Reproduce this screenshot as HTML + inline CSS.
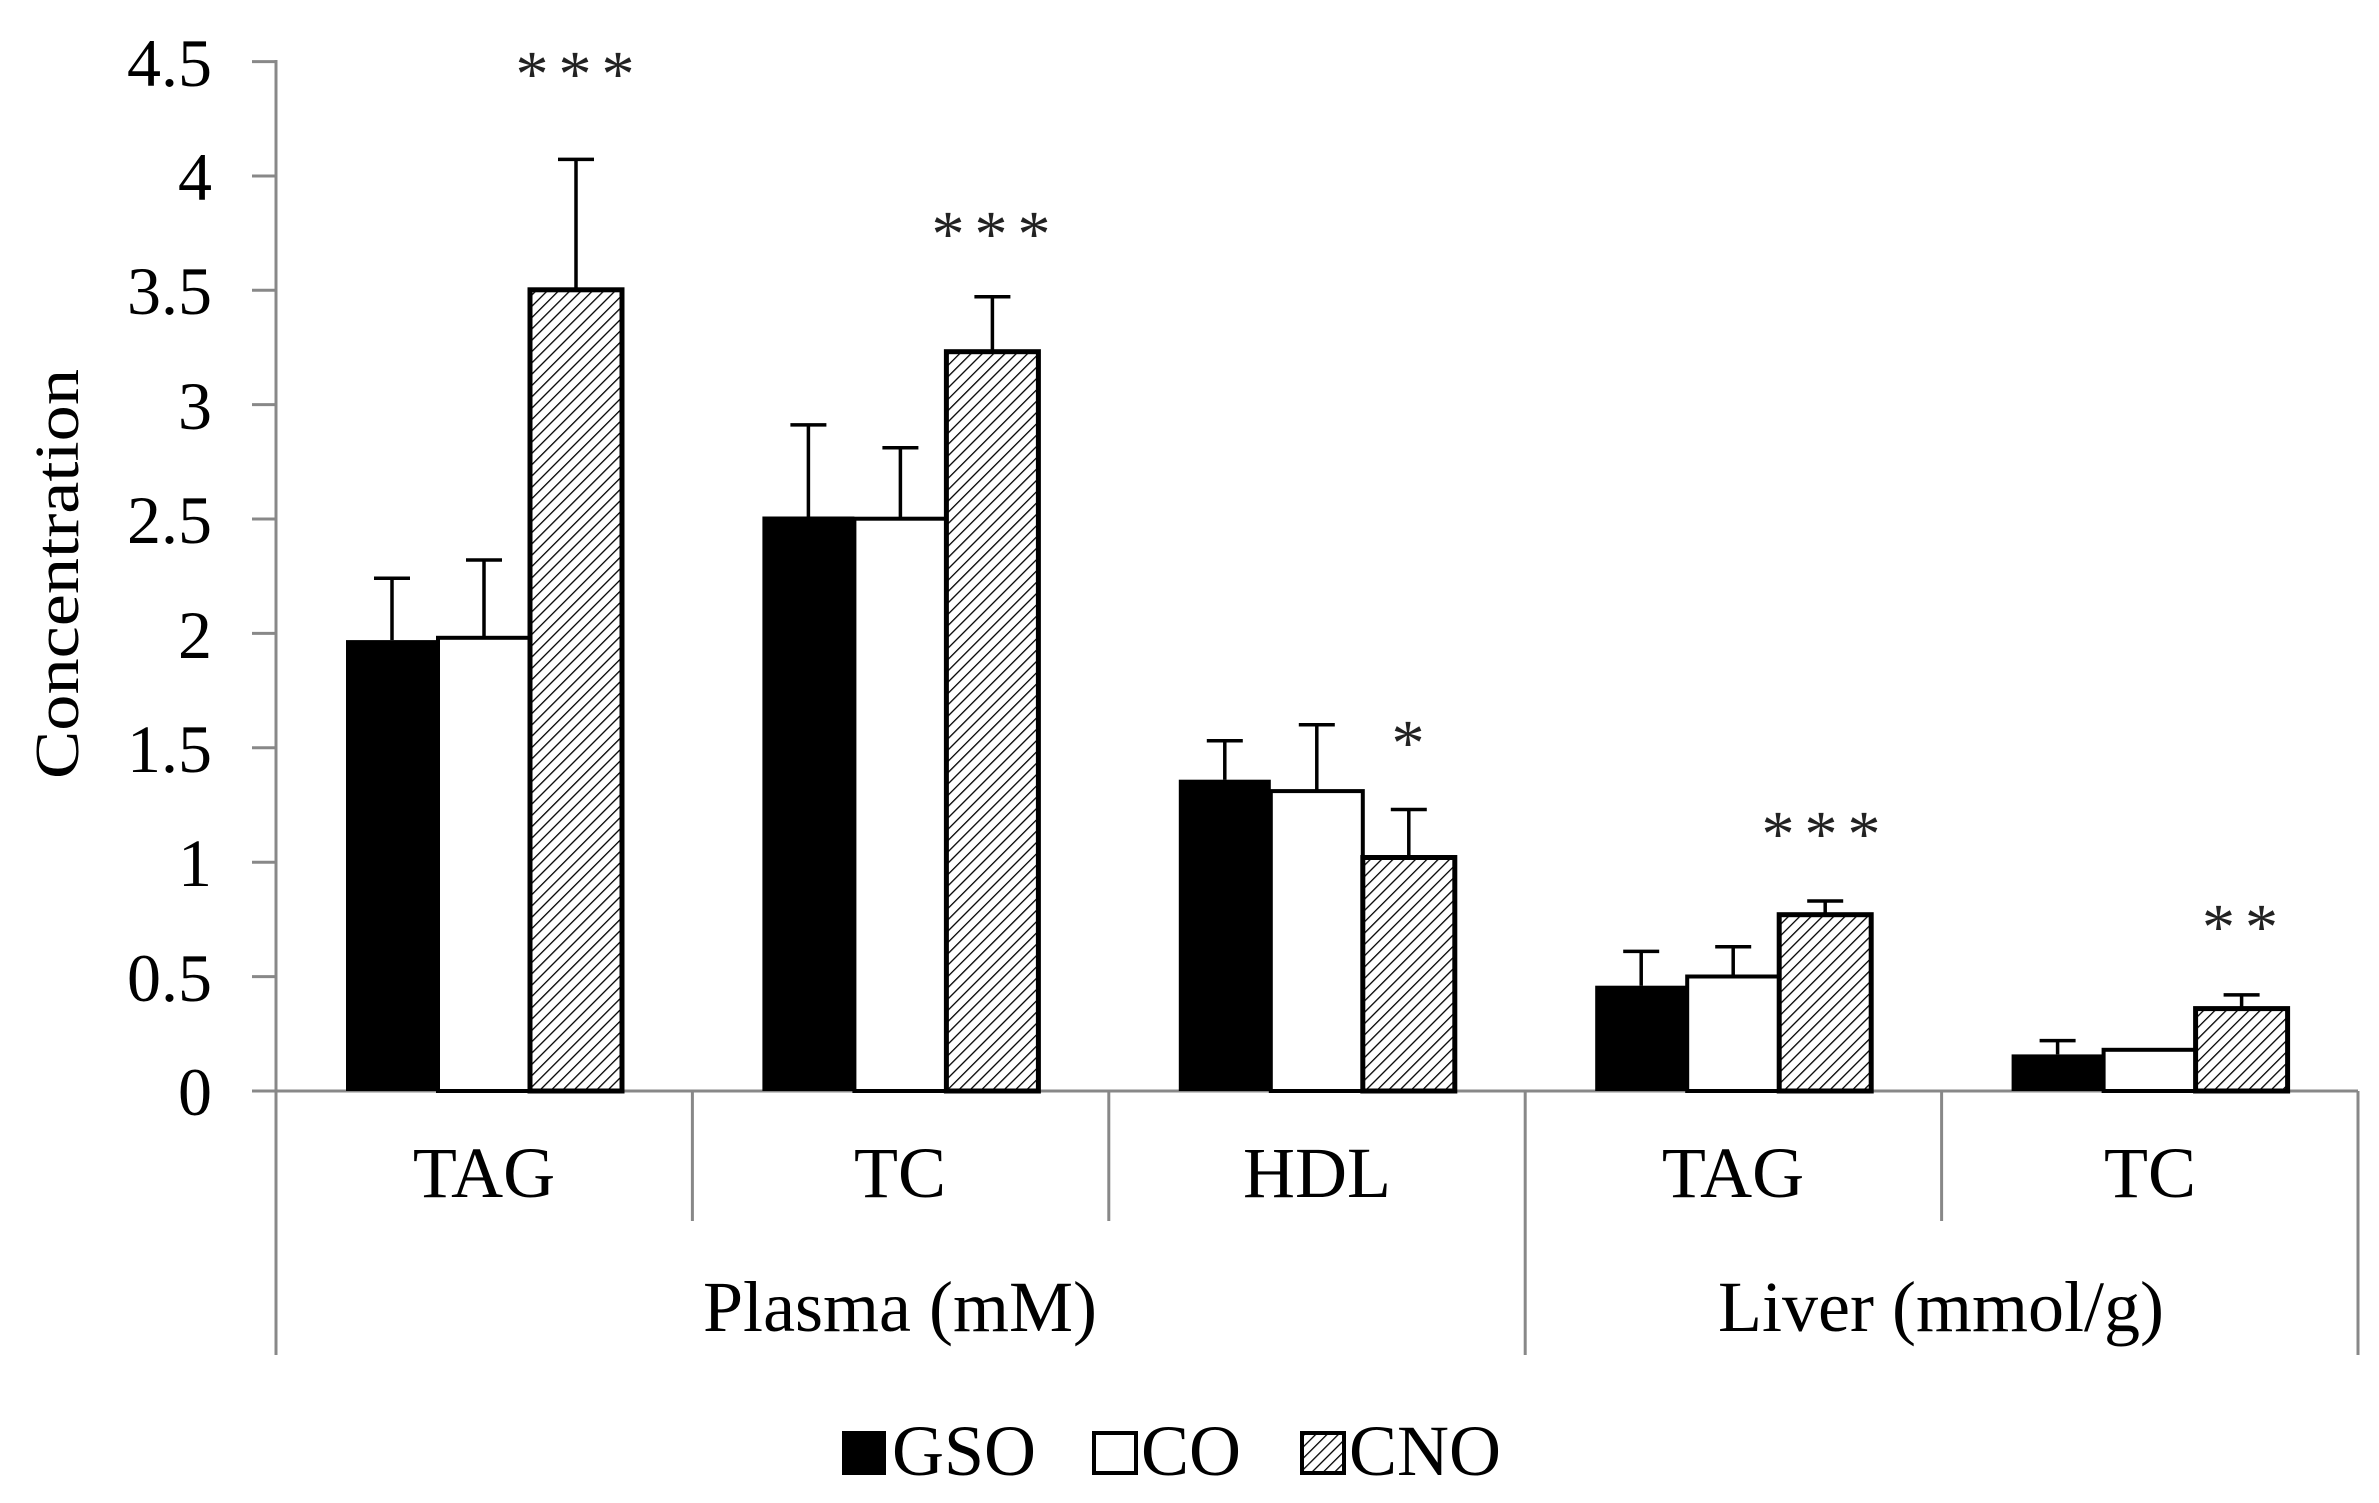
<!DOCTYPE html>
<html><head><meta charset="utf-8"><style>html,body{margin:0;padding:0;background:#fff}svg{display:block}</style></head>
<body>
<svg width="2379" height="1503" viewBox="0 0 2379 1503" xmlns="http://www.w3.org/2000/svg" font-family="'Liberation Serif', serif">
<defs>
<pattern id="h" patternUnits="userSpaceOnUse" width="8" height="8" patternTransform="rotate(45)">
<rect width="8" height="8" fill="#fff"/>
<line x1="0" y1="0" x2="0" y2="8" stroke="#000" stroke-width="2.6"/>
</pattern>
</defs>
<rect width="2379" height="1503" fill="#fff"/>
<g stroke="#888" stroke-width="3" fill="none">
<line x1="276" y1="60" x2="276" y2="1355"/>
<line x1="252" y1="1091" x2="2358" y2="1091"/>
<line x1="252" y1="61.6" x2="276" y2="61.6"/>
<line x1="252" y1="176" x2="276" y2="176"/>
<line x1="252" y1="290.2" x2="276" y2="290.2"/>
<line x1="252" y1="404.6" x2="276" y2="404.6"/>
<line x1="252" y1="519" x2="276" y2="519"/>
<line x1="252" y1="633.4" x2="276" y2="633.4"/>
<line x1="252" y1="747.8" x2="276" y2="747.8"/>
<line x1="252" y1="862.2" x2="276" y2="862.2"/>
<line x1="252" y1="976.6" x2="276" y2="976.6"/>
<line x1="692.4" y1="1091" x2="692.4" y2="1221"/>
<line x1="1108.8" y1="1091" x2="1108.8" y2="1221"/>
<line x1="1525.2" y1="1091" x2="1525.2" y2="1355"/>
<line x1="1941.6" y1="1091" x2="1941.6" y2="1221"/>
<line x1="2358" y1="1091" x2="2358" y2="1355"/>
</g>
<g font-size="68" text-anchor="end" fill="#000">
<text x="212" y="86">4.5</text>
<text x="212" y="200">4</text>
<text x="212" y="314">3.5</text>
<text x="212" y="429">3</text>
<text x="212" y="543">2.5</text>
<text x="212" y="658">2</text>
<text x="212" y="772">1.5</text>
<text x="212" y="886">1</text>
<text x="212" y="1001">0.5</text>
<text x="212" y="1115">0</text>
</g>
<text transform="translate(78,574) rotate(-90)" font-size="62" text-anchor="middle" textLength="410" lengthAdjust="spacingAndGlyphs">Concentration</text>
<g>
<rect x="346" y="640.1" width="92" height="450.9" fill="#000"/>
<rect x="438" y="637.8" width="92" height="453.2" fill="#fff" stroke="#000" stroke-width="4"/>
<rect x="530" y="289.8" width="92" height="801.2" fill="url(#h)" stroke="#000" stroke-width="5"/>

<rect x="762.4" y="516.5" width="92" height="574.5" fill="#000"/>
<rect x="854.4" y="518.7" width="92" height="572.3" fill="#fff" stroke="#000" stroke-width="4"/>
<rect x="946.4" y="351.7" width="92" height="739.3" fill="url(#h)" stroke="#000" stroke-width="5"/>

<rect x="1178.8" y="779.7" width="92" height="311.3" fill="#000"/>
<rect x="1270.8" y="791.1" width="92" height="299.9" fill="#fff" stroke="#000" stroke-width="4"/>
<rect x="1362.8" y="857.5" width="92" height="233.5" fill="url(#h)" stroke="#000" stroke-width="5"/>

<rect x="1595.2" y="985.7" width="92" height="105.3" fill="#000"/>
<rect x="1687.2" y="976.5" width="92" height="114.5" fill="#fff" stroke="#000" stroke-width="4"/>
<rect x="1779.2" y="914.7" width="92" height="176.3" fill="url(#h)" stroke="#000" stroke-width="5"/>

<rect x="2011.6" y="1054.4" width="92" height="36.6" fill="#000"/>
<rect x="2103.6" y="1049.8" width="92" height="41.2" fill="#fff" stroke="#000" stroke-width="4"/>
<rect x="2195.6" y="1008.6" width="92" height="82.4" fill="url(#h)" stroke="#000" stroke-width="5"/>
</g>
<g stroke="#000" stroke-width="3.5" fill="none">
<path d="M392 640V578.3M374 578.3H410"/>
<path d="M484 637.8V560M466 560H502"/>
<path d="M576 289.8V159.4M558 159.4H594"/>
<path d="M808.4 516.5V424.9M790.4 424.9H826.4"/>
<path d="M900.4 518.7V447.8M882.4 447.8H918.4"/>
<path d="M992.4 351.7V296.7M974.4 296.7H1010.4"/>
<path d="M1224.8 779.7V740.8M1206.8 740.8H1242.8"/>
<path d="M1316.8 791.1V724.8M1298.8 724.8H1334.8"/>
<path d="M1408.8 857.5V809.5M1390.8 809.5H1426.8"/>
<path d="M1641.2 985.7V951.4M1623.2 951.4H1659.2"/>
<path d="M1733.2 976.5V946.8M1715.2 946.8H1751.2"/>
<path d="M1825.2 914.7V901M1807.2 901H1843.2"/>
<path d="M2057.6 1054.4V1040.6M2039.6 1040.6H2075.6"/>
<path d="M2241.6 1008.6V994.9M2223.6 994.9H2259.6"/>
</g>
<g font-size="66" text-anchor="middle" fill="#222" letter-spacing="10">
<text x="580" y="96">***</text>
<text x="996" y="256">***</text>
<text x="1413" y="765">*</text>
<text x="1826" y="856">***</text>
<text x="2245" y="949">**</text>
</g>
<g font-size="72" text-anchor="middle" fill="#000">
<text x="484" y="1197">TAG</text>
<text x="900" y="1197">TC</text>
<text x="1317" y="1197">HDL</text>
<text x="1733" y="1197">TAG</text>
<text x="2150" y="1197">TC</text>
<text x="900" y="1331">Plasma (mM)</text>
<text x="1941" y="1331">Liver (mmol/g)</text>
</g>
<rect x="842" y="1431" width="44" height="44" fill="#000"/>
<rect x="1094" y="1433" width="42" height="40" fill="#fff" stroke="#000" stroke-width="4"/>
<rect x="1302" y="1433" width="42" height="40" fill="url(#h)" stroke="#000" stroke-width="4"/>
<g font-size="72" fill="#000">
<text x="892" y="1475">GSO</text>
<text x="1141" y="1475">CO</text>
<text x="1349" y="1475">CNO</text>
</g>
</svg>
</body></html>
